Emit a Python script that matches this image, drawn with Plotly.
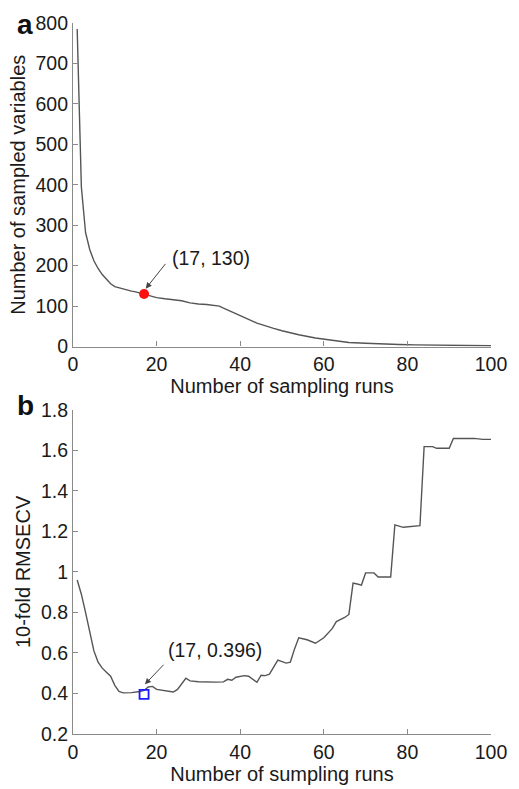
import plotly.graph_objects as go

# Panel a: number of sampled variables per sampling run
runs_a = [1, 2, 3, 4, 5, 6, 7, 8, 9, 10, 11, 12, 13, 14, 15, 16, 17, 18, 19, 20,
          22, 24, 26, 28, 30, 32, 34, 35, 36, 38, 40, 42, 44, 46, 48, 50, 54, 58,
          62, 66, 70, 74, 78, 82, 90, 100]
n_vars = [785, 395, 282, 240, 212, 193, 178, 165, 155, 148, 145, 142, 140, 137, 135,
          132, 130, 126, 123, 121, 118, 116, 113, 108, 105, 104, 102, 100, 95, 85,
          76, 67, 58, 51, 45, 39, 29, 21, 15, 10, 8, 6, 5, 4, 3, 2]

# Panel b: 10-fold RMSECV per sampling run
runs_b = [1, 2, 3, 4, 5, 6, 7, 8, 9, 10, 11, 12, 14, 16, 17, 18, 19, 20, 22, 24, 25,
          26, 27, 28, 30, 34, 36, 37, 38, 39, 41, 42, 43, 44, 45, 46, 47, 48, 49, 51,
          52, 53, 54, 56, 58, 60, 61, 62, 63, 64, 65, 66, 67, 68, 69, 70, 72, 73, 76,
          77, 78, 79, 83, 84, 86, 87, 90, 91, 96, 98, 100]
rmsecv = [0.96, 0.89, 0.80, 0.70, 0.61, 0.555, 0.525, 0.505, 0.485, 0.44, 0.41,
          0.403, 0.404, 0.41, 0.415, 0.432, 0.435, 0.42, 0.412, 0.407, 0.42, 0.445,
          0.475, 0.462, 0.458, 0.456, 0.457, 0.47, 0.465, 0.48, 0.488, 0.485, 0.472,
          0.455, 0.49, 0.488, 0.495, 0.53, 0.565, 0.55, 0.555, 0.62, 0.675, 0.665,
          0.648, 0.675, 0.70, 0.72, 0.755, 0.765, 0.775, 0.79, 0.945, 0.94, 0.935,
          0.995, 0.995, 0.975, 0.975, 1.232, 1.225, 1.22, 1.228, 1.618, 1.618, 1.61,
          1.61, 1.658, 1.659, 1.654, 1.654]

best_a = (17, 130)
best_b = (17, 0.396)

x_ticks = [0, 20, 40, 60, 80, 100]
y_ticks_a = [0, 100, 200, 300, 400, 500, 600, 700, 800]
y_ticks_b = [0.2, 0.4, 0.6, 0.8, 1.0, 1.2, 1.4, 1.6, 1.8]
y_ticktext_b = ["0.2", "0.4", "0.6", "0.8", "1", "1.2", "1.4", "1.6", "1.8"]

FONT = "Liberation Sans, Arial, sans-serif"
LINE = "#555555"
AXIS = "#8a8a8a"
TEXT = "#1a1a1a"
TICK_SIZE = 19.5
TITLE_SIZE = 20

fig = go.Figure()

fig.add_trace(go.Scatter(x=runs_a, y=n_vars, mode="lines",
                         line=dict(color=LINE, width=1.4), xaxis="x", yaxis="y",
                         showlegend=False))
fig.add_trace(go.Scatter(x=[best_a[0]], y=[best_a[1]], mode="markers",
                         marker=dict(color="#ff1010", size=10, line=dict(width=0)),
                         xaxis="x", yaxis="y", showlegend=False))

fig.add_trace(go.Scatter(x=runs_b, y=rmsecv, mode="lines",
                         line=dict(color=LINE, width=1.4), xaxis="x2", yaxis="y2",
                         showlegend=False))
fig.add_trace(go.Scatter(x=[best_b[0]], y=[best_b[1]], mode="markers",
                         marker=dict(symbol="square-open", color="#1a1aff", size=9,
                                     line=dict(width=1.8, color="#1a1aff")),
                         xaxis="x2", yaxis="y2", showlegend=False))

axis_common = dict(showline=True, linecolor=AXIS, linewidth=1.2, mirror=False,
                   ticks="inside", ticklen=5, tickcolor=AXIS, tickwidth=1,
                   showgrid=False, zeroline=False,
                   tickfont=dict(family=FONT, size=TICK_SIZE, color=TEXT))
title_font = dict(family=FONT, size=TITLE_SIZE, color=TEXT)

fig.update_layout(
    width=519, height=789,
    margin=dict(l=73, r=25, t=18, b=43),
    paper_bgcolor="white", plot_bgcolor="white",
    xaxis=dict(domain=[0, 1], range=[0, 100], tickvals=x_ticks, anchor="y",
               title=dict(text="Number of sampling runs", standoff=0,
                          font=title_font),
               **axis_common),
    yaxis=dict(domain=[0.545, 1], range=[0, 800], tickvals=y_ticks_a, anchor="x",
               title=dict(text="Number of sampled variables", standoff=4,
                          font=title_font),
               **axis_common),
    xaxis2=dict(domain=[0, 1], range=[0, 100], tickvals=x_ticks, anchor="y2",
                title=dict(text="Number of sumpling runs", standoff=0,
                           font=title_font),
                **axis_common),
    yaxis2=dict(domain=[0, 0.456], range=[0.2, 1.8], tickvals=y_ticks_b,
                ticktext=y_ticktext_b, anchor="x2",
                title=dict(text="10-fold RMSECV", standoff=4, font=title_font),
                **axis_common),
)

annotations = [
    # arrow pointing at the selected run in panel a
    dict(x=17.4, y=143, ax=22.4, ay=208, xref="x", yref="y", axref="x", ayref="y",
         text="", showarrow=True, arrowhead=2, arrowsize=1.2, arrowwidth=1,
         arrowcolor="#444444", standoff=0),
    dict(x=23.3, y=220, xref="x", yref="y", text="(17, 130)", showarrow=False,
         xanchor="left", yanchor="middle",
         font=dict(family=FONT, size=TICK_SIZE, color=TEXT)),
    # arrow pointing at the selected run in panel b
    dict(x=17.2, y=0.445, ax=22.0, ay=0.549, xref="x2", yref="y2", axref="x2",
         ayref="y2", text="", showarrow=True, arrowhead=2, arrowsize=1.2,
         arrowwidth=1, arrowcolor="#444444", standoff=0),
    dict(x=22.2, y=0.613, xref="x2", yref="y2", text="(17, 0.396)", showarrow=False,
         xanchor="left", yanchor="middle",
         font=dict(family=FONT, size=TICK_SIZE, color=TEXT)),
    # panel letters
    dict(x=25, y=20, xref="paper", yref="paper", text="<b>a</b>", showarrow=False,
         font=dict(family=FONT, size=28, color="#111111")),
    dict(x=25, y=410, xref="paper", yref="paper", text="<b>b</b>", showarrow=False,
         font=dict(family=FONT, size=28, color="#111111")),
]

# panel letters are placed in pixel terms; convert to paper fractions
plot_w = 519 - 73 - 25
plot_h = 789 - 18 - 43
for a in annotations:
    if a["xref"] == "paper":
        a["x"] = (a["x"] - 73) / plot_w
        a["y"] = (789 - 43 - a["y"]) / plot_h
        a["xanchor"] = "center"
        a["yanchor"] = "middle"

fig.update_layout(annotations=annotations)

fig.write_html("out.html")
